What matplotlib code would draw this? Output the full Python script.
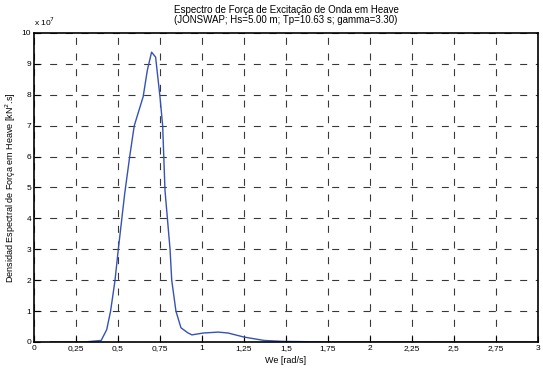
import matplotlib.pyplot as plt
import numpy as np

# frequency [rad/s] and spectral density [x 1e7 kN^2.s]
we = [0.10, 0.30, 0.40, 0.433, 0.456, 0.482, 0.502, 0.54, 0.571, 0.597, 0.65,
      0.675, 0.70, 0.724, 0.75, 0.766, 0.78, 0.81, 0.82, 0.845, 0.875, 0.915,
      0.94, 1.008, 1.097, 1.156, 1.25, 1.37, 1.48, 1.75, 2.0, 2.5, 3.0]
s = [0.0, 0.0, 0.05, 0.4, 1.0, 1.98, 3.0, 4.8, 6.05, 7.0, 7.94,
     8.8, 9.38, 9.22, 7.94, 7.0, 4.9, 3.0, 2.0, 1.0, 0.46, 0.3,
     0.23, 0.29, 0.32, 0.29, 0.16, 0.05, 0.02, 0.0, 0.0, 0.0, 0.0]

xticks = np.arange(0, 3.01, 0.25)
xlabels = ["0", "0,25", "0,5", "0,75", "1", "1,25", "1,5", "1,75",
           "2", "2,25", "2,5", "2,75", "3"]
yticks = np.arange(0, 11, 1)

plt.rcParams['font.family'] = ['Liberation Sans Narrow', 'Liberation Sans', 'DejaVu Sans']

fig = plt.figure(figsize=(5.43, 3.69), dpi=100)
ax = fig.add_axes([0.0626, 0.0732, 0.928, 0.8374])

ax.plot(we, s, color='#3552b5', lw=1.0)

ax.set_xlim(0, 3)
ax.set_ylim(0, 10)
ax.set_xticks(xticks)
ax.set_xticklabels(xlabels)
ax.set_yticks(yticks)
ax.tick_params(direction='in', labelsize=6, length=4, width=0.8, pad=2)
ax.grid(True, color='#383838', linestyle=(0, (6.3, 7.8)), linewidth=0.8)
for sp in ax.spines.values():
    sp.set_linewidth(1.2)

ax.set_xlabel("We [rad/s]", fontsize=6.5, labelpad=3)
ax.set_ylabel("Densidad Espectral de Força em Heave [kN$^2$.s]", fontsize=6.5, labelpad=3)
ax.set_title("Espectro de Força de Excitação de Onda em Heave\n"
             "(JONSWAP; Hs=5.00 m; Tp=10.63 s; gamma=3.30)",
             fontsize=7, pad=7, linespacing=1.0)
ax.text(0.0, 1.015, r"x 10$^7$", transform=ax.transAxes, fontsize=6,
        ha='left', va='bottom')

fig.savefig("out.png", dpi=100)
